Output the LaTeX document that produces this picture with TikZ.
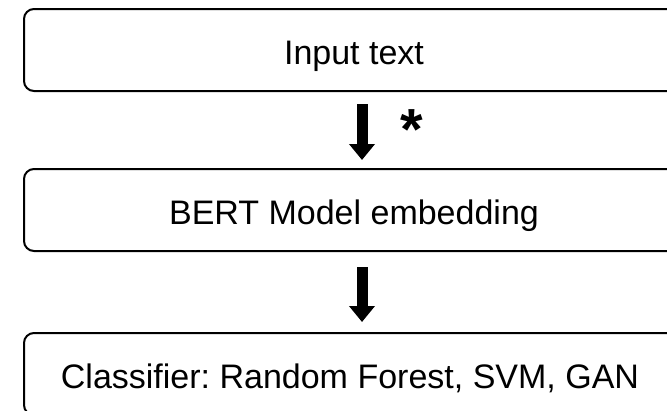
\documentclass[tikz,border=0pt]{standalone}
\usepackage{fontspec}
\setmainfont{Liberation Sans}
\usetikzlibrary{arrows.meta,calc}
\begin{document}
\frenchspacing
\begin{tikzpicture}[x=1pt,y=-1pt,
  box/.style={draw=black,line width=2pt,rounded corners=10pt,minimum width=660pt,minimum height=82pt,inner sep=0pt,text height=29pt,text depth=0pt,font=\fontsize{34}{40}\selectfont},
  bigarrow/.style={line width=11pt,-{Triangle[width=25pt,length=16pt]}}]
\useasboundingbox (0,0) rectangle (667,410);
\clip (0,0) rectangle (667,410);
\fill[white] (0,0) rectangle (667,410);
\node[box] (b1) at (354,50) {Input text};
\node[box] (b2) at (354,210) {BERT Model embedding};
\node[box] (b3) at (354,374) {\hspace*{-8pt}\frenchspacing Classifier: Random Forest, SVM, GAN};
\draw[bigarrow] ($(b1.south)+(8,12)$) -- ($(b2.north)+(8,-8)$);
\draw[bigarrow] ($(b2.south)+(8,15)$) -- ($(b3.north)+(8,-10)$);
\node[font=\bfseries\fontsize{58}{60}\selectfont,inner sep=0pt] (star) at (412,130) {*};
\end{tikzpicture}
\end{document}
